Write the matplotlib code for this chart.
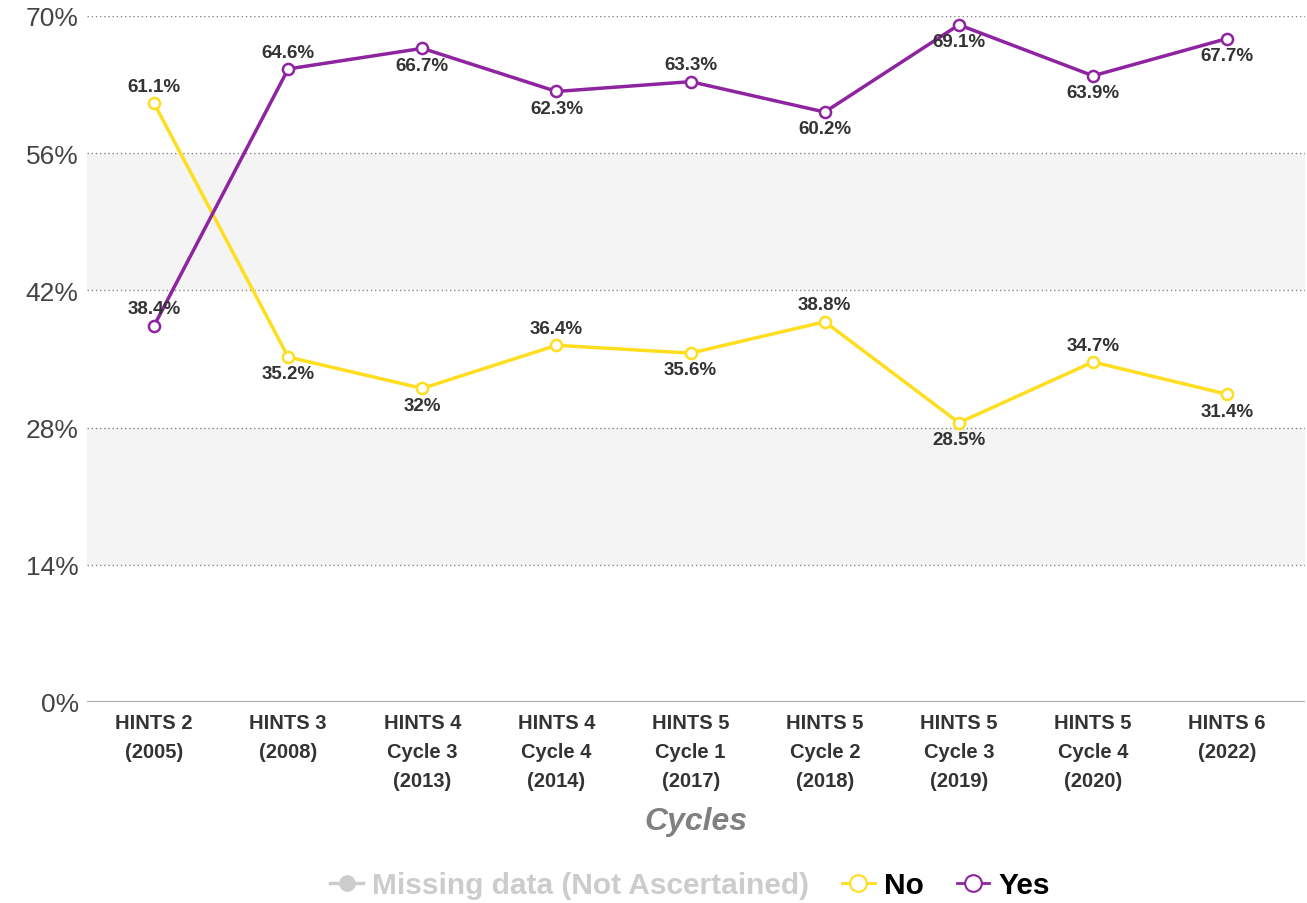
import matplotlib.pyplot as plt
from matplotlib.lines import Line2D

plt.rcParams['font.family'] = ['Liberation Sans', 'DejaVu Sans']

# Data
cycles = ["HINTS 2\n(2005)", "HINTS 3\n(2008)", "HINTS 4\nCycle 3\n(2013)",
          "HINTS 4\nCycle 4\n(2014)", "HINTS 5\nCycle 1\n(2017)", "HINTS 5\nCycle 2\n(2018)",
          "HINTS 5\nCycle 3\n(2019)", "HINTS 5\nCycle 4\n(2020)", "HINTS 6\n(2022)"]
no_vals = [61.1, 35.2, 32.0, 36.4, 35.6, 38.8, 28.5, 34.7, 31.4]
yes_vals = [38.4, 64.6, 66.7, 62.3, 63.3, 60.2, 69.1, 63.9, 67.7]
# label above (+1) or below (-1) the point
no_pos = [1, -1, -1, 1, -1, 1, -1, 1, -1]
yes_pos = [1, 1, -1, -1, 1, -1, -1, -1, -1]
yticks = [0, 14, 28, 42, 56, 70]

YELLOW = '#FFDD1F'
PURPLE = '#8E24A0'

fig = plt.figure(figsize=(13.07, 9.04), dpi=100)
ax = fig.add_axes([87 / 1307, 1 - 703 / 904, 1218 / 1307, 686 / 904])

x = list(range(len(cycles)))
ax.set_xlim(-0.5, len(cycles) - 0.5 + 0.08)
ax.set_ylim(0, 70)

# alternating bands
for lo, hi in [(14, 28), (42, 56)]:
    ax.axhspan(lo, hi, color='#f4f4f4', zorder=0, lw=0)
for t in yticks[1:]:
    ax.axhline(t, color='#888888', lw=1, ls=(0, (1, 2)), zorder=1)
ax.axhline(0, color='#aaaaaa', lw=1.5, zorder=1)

for vals, pos, col in [(no_vals, no_pos, YELLOW), (yes_vals, yes_pos, PURPLE)]:
    ax.plot(x, vals, color=col, lw=2.5, marker='o', ms=8, mfc='white',
            mec=col, mew=1.8, zorder=3)
    for xi, v, p in zip(x, vals, pos):
        lab = f"{v:g}%"
        ax.annotate(lab, (xi, v), xytext=(0, 6 * p), textcoords='offset points',
                    ha='center', va='bottom' if p > 0 else 'top',
                    fontsize=13.5, fontweight='bold', color='#333333', zorder=4)

ax.set_yticks(yticks)
ax.set_yticklabels([f"{t}%" for t in yticks], fontsize=19, color='#444444')
ax.set_xticks(x)
ax.set_xticklabels(cycles, fontsize=14.5, fontweight='bold', color='#333333',
                   linespacing=1.65)
ax.tick_params(length=0, pad=8)
ax.tick_params(axis='y', pad=6)
for s in ax.spines.values():
    s.set_visible(False)

ax.set_xlabel("Cycles", fontsize=23, fontweight='bold', style='italic',
              color='#808080', labelpad=12)

handles = [
    Line2D([], [], color='#cccccc', lw=2.5, marker='o', ms=11, mfc='#cccccc', mec='#cccccc'),
    Line2D([], [], color=YELLOW, lw=2, marker='o', ms=12, mfc='white', mec=YELLOW, mew=1.5),
    Line2D([], [], color=PURPLE, lw=2, marker='o', ms=12, mfc='white', mec=PURPLE, mew=1.5),
]
leg = fig.legend(handles, ["Missing data (Not Ascertained)", "No", "Yes"],
                 loc='center', bbox_to_anchor=(0.528, 1 - 886 / 904), ncol=3,
                 frameon=False, handlelength=1.1, handletextpad=0.3,
                 columnspacing=1.1, prop={'size': 21.5, 'weight': 'bold'})
for txt, c in zip(leg.get_texts(), ['#cccccc', 'black', 'black']):
    txt.set_color(c)

fig.savefig('out.png', dpi=100)
